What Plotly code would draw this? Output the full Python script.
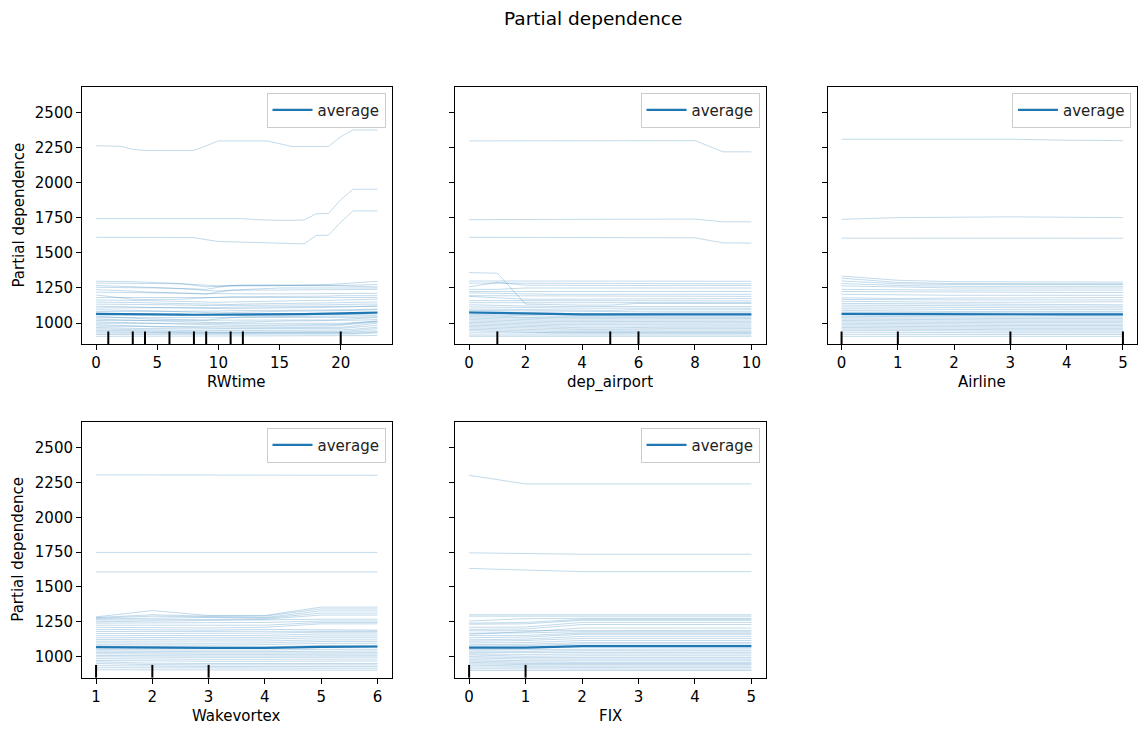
import plotly.graph_objects as go

# ---------------- data ----------------
features = ["RWtime", "dep_airport", "Airline", "Wakevortex", "FIX"]

rwtime_grid = list(range(0, 24))
rwtime_ice = [
    [2265, 2264, 2262, 2240, 2232, 2232, 2232, 2232, 2232, 2265, 2300, 2300, 2300, 2300, 2300, 2280, 2260, 2260, 2260, 2260, 2330, 2378, 2378, 2378],
    [1745, 1745, 1745, 1745, 1745, 1745, 1745, 1745, 1745, 1745, 1745, 1745, 1745, 1738, 1733, 1733, 1733, 1735, 1780, 1782, 1880, 1955, 1955, 1955],
    [1612, 1612, 1612, 1612, 1612, 1612, 1612, 1612, 1610, 1595, 1582, 1580, 1578, 1575, 1574, 1572, 1568, 1565, 1625, 1627, 1720, 1800, 1800, 1800],
    [1298, 1298, 1296, 1295, 1292, 1290, 1285, 1280, 1275, 1268, 1265, 1268, 1270, 1272, 1272, 1272, 1272, 1272, 1274, 1275, 1280, 1288, 1292, 1298],
    [1285, 1285, 1285, 1285, 1285, 1285, 1282, 1280, 1270, 1258, 1262, 1265, 1265, 1265, 1265, 1265, 1265, 1265, 1265, 1266, 1268, 1270, 1272, 1275],
    [1268, 1265, 1262, 1260, 1258, 1255, 1252, 1250, 1245, 1240, 1255, 1268, 1270, 1270, 1270, 1270, 1270, 1270, 1268, 1268, 1265, 1262, 1260, 1258],
    [1255, 1255, 1255, 1252, 1250, 1250, 1248, 1245, 1240, 1232, 1228, 1235, 1240, 1245, 1248, 1250, 1250, 1250, 1250, 1250, 1250, 1250, 1250, 1250],
    [1238, 1236, 1232, 1228, 1222, 1220, 1215, 1212, 1210, 1205, 1222, 1232, 1235, 1235, 1235, 1235, 1235, 1235, 1235, 1235, 1238, 1240, 1240, 1240],
    [1220, 1218, 1218, 1215, 1215, 1215, 1215, 1212, 1210, 1210, 1210, 1208, 1208, 1208, 1208, 1208, 1208, 1208, 1208, 1210, 1210, 1212, 1212, 1212],
    [1200, 1190, 1175, 1170, 1168, 1168, 1168, 1170, 1175, 1180, 1185, 1188, 1188, 1188, 1190, 1190, 1190, 1190, 1190, 1192, 1195, 1195, 1195, 1195],
    [1182, 1182, 1180, 1180, 1180, 1178, 1178, 1178, 1178, 1180, 1180, 1180, 1180, 1180, 1180, 1180, 1180, 1180, 1180, 1180, 1182, 1182, 1182, 1182],
    [1165, 1165, 1162, 1160, 1160, 1158, 1155, 1155, 1152, 1150, 1148, 1150, 1152, 1155, 1158, 1160, 1162, 1162, 1162, 1162, 1165, 1168, 1170, 1170],
    [1150, 1150, 1150, 1148, 1145, 1142, 1140, 1138, 1135, 1132, 1130, 1132, 1135, 1138, 1140, 1140, 1140, 1140, 1142, 1142, 1145, 1148, 1150, 1150],
    [1135, 1135, 1135, 1135, 1135, 1132, 1130, 1128, 1125, 1125, 1125, 1125, 1125, 1128, 1130, 1130, 1130, 1130, 1130, 1130, 1132, 1135, 1135, 1135],
    [1120, 1120, 1118, 1115, 1112, 1110, 1108, 1106, 1104, 1102, 1100, 1102, 1104, 1106, 1108, 1110, 1110, 1110, 1110, 1112, 1115, 1118, 1120, 1120],
    [1108, 1108, 1108, 1108, 1108, 1108, 1105, 1105, 1105, 1108, 1110, 1112, 1115, 1115, 1115, 1115, 1115, 1115, 1115, 1115, 1115, 1118, 1120, 1122],
    [1095, 1095, 1092, 1090, 1088, 1085, 1082, 1080, 1078, 1075, 1072, 1075, 1078, 1080, 1082, 1085, 1085, 1085, 1085, 1085, 1088, 1090, 1092, 1095],
    [1082, 1082, 1082, 1080, 1080, 1080, 1080, 1080, 1080, 1082, 1085, 1088, 1090, 1090, 1090, 1090, 1090, 1090, 1090, 1090, 1092, 1095, 1098, 1100],
    [1070, 1068, 1066, 1064, 1062, 1060, 1058, 1056, 1054, 1052, 1050, 1052, 1054, 1056, 1058, 1060, 1060, 1060, 1062, 1062, 1064, 1066, 1068, 1070],
    [1058, 1058, 1058, 1058, 1056, 1056, 1056, 1056, 1056, 1056, 1058, 1058, 1058, 1058, 1058, 1058, 1058, 1058, 1058, 1058, 1060, 1062, 1064, 1066],
    [1048, 1045, 1040, 1035, 1030, 1028, 1026, 1024, 1022, 1020, 1030, 1040, 1045, 1045, 1045, 1045, 1045, 1045, 1045, 1045, 1048, 1050, 1052, 1055],
    [1038, 1038, 1038, 1036, 1035, 1035, 1035, 1035, 1035, 1035, 1035, 1035, 1035, 1035, 1035, 1035, 1035, 1035, 1035, 1035, 1038, 1040, 1042, 1045],
    [1028, 1025, 1022, 1020, 1018, 1015, 1012, 1010, 1008, 1005, 1002, 1005, 1008, 1010, 1012, 1015, 1015, 1015, 1015, 1015, 1018, 1020, 1022, 1025],
    [1018, 1018, 1018, 1018, 1018, 1018, 1018, 1018, 1018, 1020, 1022, 1022, 1022, 1022, 1022, 1022, 1022, 1022, 1022, 1022, 1025, 1030, 1035, 1040],
    [1008, 1005, 1002, 1000, 998, 996, 994, 992, 990, 988, 985, 985, 985, 985, 985, 985, 985, 985, 985, 985, 990, 998, 1005, 1012],
    [998, 998, 996, 995, 995, 995, 995, 995, 995, 995, 995, 995, 995, 995, 995, 995, 995, 995, 995, 995, 998, 1002, 1008, 1015],
    [988, 985, 980, 978, 975, 975, 975, 975, 975, 978, 980, 980, 980, 980, 980, 980, 980, 980, 980, 980, 985, 992, 1000, 1008],
    [978, 978, 978, 978, 975, 972, 970, 968, 965, 965, 965, 965, 965, 965, 965, 965, 965, 965, 965, 965, 970, 978, 990, 1000],
    [968, 965, 962, 960, 960, 960, 958, 958, 958, 958, 958, 958, 958, 958, 958, 958, 958, 958, 958, 958, 962, 968, 975, 985],
    [958, 958, 955, 952, 950, 948, 946, 945, 944, 945, 946, 946, 946, 946, 946, 946, 946, 946, 946, 946, 950, 955, 962, 970],
    [948, 948, 948, 945, 942, 940, 938, 936, 935, 935, 935, 935, 935, 935, 935, 935, 935, 935, 935, 935, 940, 945, 952, 960],
    [938, 938, 938, 938, 935, 932, 930, 930, 930, 930, 930, 930, 930, 930, 930, 930, 930, 930, 930, 930, 932, 936, 940, 945],
    [928, 928, 928, 928, 928, 926, 925, 925, 925, 925, 925, 925, 925, 925, 925, 925, 925, 925, 925, 925, 926, 928, 932, 936],
    [918, 918, 918, 918, 918, 918, 918, 918, 918, 918, 918, 918, 918, 918, 918, 918, 918, 918, 918, 918, 920, 922, 925, 930],
    [905, 905, 905, 905, 905, 905, 905, 905, 905, 905, 905, 905, 905, 905, 905, 905, 905, 905, 905, 905, 906, 908, 910, 912],
]
rwtime_avg = [1065, 1065, 1064, 1063, 1062, 1061, 1060, 1060, 1059, 1059, 1060, 1062, 1063, 1064, 1064, 1064, 1064, 1064, 1065, 1065, 1067, 1070, 1072, 1075]
rwtime_deciles = [1, 3, 4, 6, 8, 9, 11, 12, 20]

dep_grid = list(range(0, 11))
dep_ice = [
    [2300, 2300, 2300, 2300, 2300, 2300, 2302, 2302, 2302, 2222, 2222],
    [1738, 1738, 1739, 1740, 1740, 1741, 1742, 1742, 1742, 1722, 1722],
    [1612, 1612, 1612, 1612, 1612, 1612, 1611, 1610, 1608, 1572, 1570],
    [1300, 1300, 1298, 1298, 1298, 1298, 1298, 1298, 1298, 1298, 1298],
    [1360, 1355, 1135, 1130, 1128, 1128, 1140, 1140, 1140, 1140, 1140],
    [1258, 1290, 1270, 1268, 1268, 1268, 1268, 1268, 1268, 1268, 1268],
    [1285, 1285, 1282, 1280, 1280, 1280, 1280, 1280, 1280, 1280, 1280],
    [1240, 1240, 1250, 1250, 1250, 1250, 1250, 1250, 1250, 1250, 1250],
    [1225, 1225, 1225, 1225, 1225, 1225, 1225, 1225, 1225, 1225, 1225],
    [1215, 1210, 1205, 1205, 1205, 1205, 1205, 1205, 1205, 1205, 1205],
    [1195, 1195, 1190, 1190, 1190, 1190, 1190, 1190, 1190, 1190, 1190],
    [1190, 1180, 1170, 1170, 1170, 1170, 1175, 1175, 1175, 1175, 1175],
    [1160, 1160, 1160, 1160, 1158, 1158, 1158, 1158, 1158, 1158, 1158],
    [1145, 1145, 1145, 1145, 1145, 1145, 1145, 1145, 1145, 1145, 1145],
    [1130, 1125, 1120, 1118, 1118, 1118, 1118, 1118, 1118, 1118, 1118],
    [1115, 1112, 1110, 1108, 1106, 1106, 1106, 1106, 1106, 1106, 1106],
    [1100, 1098, 1095, 1092, 1090, 1090, 1095, 1095, 1095, 1095, 1095],
    [1090, 1088, 1085, 1082, 1080, 1080, 1080, 1080, 1080, 1080, 1080],
    [1082, 1078, 1070, 1068, 1066, 1066, 1070, 1070, 1070, 1070, 1070],
    [1072, 1068, 1060, 1058, 1056, 1056, 1060, 1060, 1060, 1060, 1060],
    [1062, 1058, 1050, 1048, 1048, 1048, 1050, 1050, 1050, 1050, 1050],
    [1052, 1050, 1040, 1038, 1038, 1038, 1040, 1040, 1040, 1040, 1040],
    [1045, 1040, 1032, 1030, 1030, 1030, 1032, 1032, 1032, 1032, 1032],
    [1035, 1030, 1022, 1020, 1020, 1020, 1022, 1022, 1022, 1022, 1022],
    [1025, 1020, 1012, 1010, 1010, 1010, 1012, 1012, 1012, 1012, 1012],
    [1015, 1010, 1002, 1000, 1000, 1000, 1002, 1002, 1002, 1002, 1002],
    [1005, 1000, 992, 990, 990, 990, 992, 992, 992, 992, 992],
    [995, 990, 982, 980, 978, 978, 980, 980, 980, 980, 980],
    [985, 980, 972, 968, 966, 966, 970, 970, 970, 970, 970],
    [975, 970, 962, 958, 956, 956, 960, 960, 960, 960, 960],
    [965, 962, 955, 950, 948, 948, 950, 950, 950, 950, 950],
    [955, 952, 945, 940, 938, 938, 940, 940, 940, 940, 940],
    [945, 942, 935, 930, 930, 930, 932, 932, 932, 932, 932],
    [930, 930, 928, 925, 925, 925, 925, 925, 925, 925, 925],
    [915, 915, 915, 915, 915, 915, 915, 915, 915, 915, 915],
    [905, 905, 905, 905, 905, 905, 905, 905, 905, 905, 905],
]
dep_avg = [1075, 1072, 1065, 1063, 1062, 1062, 1063, 1063, 1063, 1062, 1062]
dep_deciles = [1, 5, 6]

airline_grid = [0, 1, 2, 3, 4, 5]
airline_ice = [
    [2312, 2312, 2312, 2312, 2305, 2302],
    [1740, 1752, 1755, 1758, 1755, 1752],
    [1606, 1606, 1606, 1606, 1606, 1605],
    [1335, 1305, 1295, 1295, 1292, 1292],
    [1320, 1290, 1282, 1280, 1280, 1280],
    [1300, 1280, 1275, 1275, 1275, 1275],
    [1282, 1268, 1262, 1262, 1262, 1262],
    [1265, 1255, 1250, 1250, 1250, 1250],
    [1240, 1235, 1235, 1235, 1235, 1235],
    [1225, 1222, 1220, 1220, 1218, 1218],
    [1205, 1200, 1198, 1198, 1198, 1198],
    [1180, 1175, 1178, 1180, 1182, 1182],
    [1168, 1165, 1165, 1165, 1165, 1165],
    [1155, 1150, 1148, 1148, 1150, 1152],
    [1140, 1138, 1135, 1132, 1130, 1130],
    [1128, 1125, 1122, 1120, 1120, 1120],
    [1115, 1112, 1110, 1108, 1108, 1108],
    [1102, 1098, 1095, 1095, 1095, 1095],
    [1090, 1085, 1082, 1082, 1082, 1082],
    [1078, 1075, 1072, 1072, 1072, 1072],
    [1068, 1065, 1062, 1062, 1062, 1062],
    [1058, 1055, 1052, 1052, 1052, 1052],
    [1048, 1045, 1042, 1042, 1042, 1042],
    [1038, 1035, 1032, 1032, 1032, 1032],
    [1028, 1025, 1022, 1022, 1022, 1022],
    [1018, 1015, 1012, 1012, 1012, 1012],
    [1008, 1005, 1002, 1002, 1002, 1002],
    [998, 995, 992, 992, 992, 992],
    [988, 985, 982, 982, 982, 982],
    [978, 975, 972, 972, 972, 972],
    [968, 965, 962, 962, 962, 962],
    [958, 955, 952, 952, 952, 952],
    [948, 945, 942, 942, 942, 942],
    [935, 932, 930, 930, 930, 930],
    [920, 918, 918, 918, 918, 918],
    [905, 905, 905, 905, 905, 905],
]
airline_avg = [1065, 1063, 1062, 1062, 1062, 1062]
airline_deciles = [0, 1, 3, 5]

wake_grid = [1, 2, 3, 4, 5, 6]
wake_ice = [
    [2305, 2305, 2305, 2305, 2305, 2302],
    [1748, 1748, 1748, 1748, 1748, 1748],
    [1608, 1608, 1608, 1608, 1608, 1608],
    [1285, 1330, 1295, 1295, 1355, 1355],
    [1280, 1300, 1290, 1290, 1342, 1342],
    [1275, 1290, 1285, 1280, 1328, 1328],
    [1270, 1275, 1280, 1275, 1312, 1312],
    [1262, 1265, 1268, 1268, 1298, 1298],
    [1250, 1255, 1258, 1260, 1268, 1268],
    [1240, 1240, 1240, 1245, 1255, 1255],
    [1225, 1225, 1225, 1225, 1245, 1245],
    [1210, 1205, 1205, 1210, 1235, 1235],
    [1195, 1190, 1190, 1195, 1190, 1190],
    [1180, 1180, 1178, 1180, 1182, 1182],
    [1165, 1165, 1165, 1168, 1175, 1175],
    [1150, 1150, 1150, 1152, 1162, 1162],
    [1135, 1138, 1138, 1138, 1148, 1148],
    [1122, 1125, 1125, 1125, 1135, 1135],
    [1110, 1110, 1112, 1112, 1120, 1120],
    [1098, 1095, 1095, 1098, 1108, 1108],
    [1085, 1082, 1082, 1085, 1095, 1095],
    [1075, 1070, 1068, 1068, 1080, 1080],
    [1062, 1058, 1058, 1058, 1065, 1065],
    [1050, 1046, 1046, 1046, 1052, 1052],
    [1040, 1035, 1035, 1035, 1040, 1040],
    [1030, 1025, 1025, 1025, 1028, 1028],
    [1020, 1015, 1015, 1015, 1018, 1018],
    [1008, 1004, 1004, 1004, 1006, 1006],
    [998, 994, 994, 994, 996, 996],
    [985, 980, 980, 980, 982, 982],
    [972, 968, 966, 966, 968, 968],
    [962, 952, 950, 950, 950, 950],
    [950, 942, 940, 940, 940, 940],
    [935, 930, 928, 928, 928, 928],
    [920, 918, 916, 916, 916, 916],
    [905, 905, 902, 902, 902, 902],
]
wake_avg = [1068, 1064, 1062, 1062, 1070, 1072]
wake_deciles = [1, 2, 3]

fix_grid = [0, 1, 2, 3, 4, 5]
fix_ice = [
    [2302, 2240, 2240, 2240, 2240, 2240],
    [1745, 1738, 1735, 1735, 1735, 1735],
    [1633, 1620, 1610, 1610, 1610, 1610],
    [1300, 1300, 1300, 1300, 1300, 1300],
    [1290, 1290, 1290, 1290, 1290, 1290],
    [1255, 1272, 1275, 1275, 1275, 1275],
    [1240, 1245, 1268, 1268, 1268, 1268],
    [1232, 1235, 1260, 1260, 1260, 1260],
    [1210, 1212, 1245, 1245, 1245, 1245],
    [1195, 1198, 1230, 1230, 1230, 1230],
    [1160, 1178, 1205, 1205, 1205, 1205],
    [1185, 1185, 1188, 1188, 1188, 1188],
    [1168, 1170, 1178, 1178, 1178, 1178],
    [1150, 1152, 1168, 1168, 1168, 1168],
    [1135, 1140, 1160, 1160, 1160, 1160],
    [1120, 1125, 1145, 1145, 1145, 1145],
    [1110, 1115, 1130, 1130, 1130, 1130],
    [1098, 1100, 1115, 1115, 1115, 1115],
    [1085, 1088, 1100, 1100, 1100, 1100],
    [1075, 1078, 1090, 1090, 1090, 1090],
    [1062, 1062, 1070, 1070, 1070, 1070],
    [1050, 1050, 1055, 1055, 1055, 1055],
    [1040, 1038, 1042, 1042, 1042, 1042],
    [1030, 1028, 1030, 1030, 1030, 1030],
    [1020, 1015, 1018, 1018, 1018, 1018],
    [1012, 1002, 1005, 1005, 1005, 1005],
    [1000, 992, 992, 992, 992, 992],
    [990, 982, 982, 982, 982, 982],
    [978, 970, 970, 970, 970, 970],
    [968, 960, 958, 958, 958, 958],
    [958, 950, 950, 950, 950, 950],
    [948, 942, 942, 942, 942, 942],
    [938, 932, 932, 932, 932, 932],
    [925, 922, 922, 922, 922, 922],
    [912, 910, 910, 910, 910, 910],
    [900, 900, 900, 900, 900, 900],
]
fix_avg = [1064, 1064, 1075, 1075, 1075, 1075]
fix_deciles = [0, 1]

x_dticks = [5, 2, 1, 1, 1]
y_ticks = [1000, 1250, 1500, 1750, 2000, 2250, 2500]
y_range = [848, 2687]

# ---------------- figure ----------------
W, H = 1138, 729
FONT = "DejaVu Sans"
BLUE = "#1f77b4"
ICE_COLOR = "rgba(31,119,180,0.3)"

panels = [
    (rwtime_grid, rwtime_ice, rwtime_avg, rwtime_deciles),
    (dep_grid, dep_ice, dep_avg, dep_deciles),
    (airline_grid, airline_ice, airline_avg, airline_deciles),
    (wake_grid, wake_ice, wake_avg, wake_deciles),
    (fix_grid, fix_ice, fix_avg, fix_deciles),
]

# pixel boxes (left, right, top, bottom)
boxes = [
    (82, 391.5, 86.7, 344.3),
    (455, 765.5, 86.7, 344.3),
    (827.5, 1137, 86.7, 344.3),
    (82, 391.5, 421.7, 677.7),
    (455, 765.5, 421.7, 677.7),
]

fig = go.Figure()
layout = dict(
    width=W, height=H,
    margin=dict(l=0, r=0, t=0, b=0),
    paper_bgcolor="white", plot_bgcolor="white",
    font=dict(family=FONT, size=15, color="black"),
    showlegend=True,
)
shapes = []
annotations = []

for i, (grid, ice, avg, dec) in enumerate(panels):
    n = i + 1
    xa = "x" if n == 1 else f"x{n}"
    ya = "y" if n == 1 else f"y{n}"
    lg = "legend" if n == 1 else f"legend{n}"
    for line in ice:
        fig.add_trace(go.Scatter(
            x=grid, y=line, mode="lines", xaxis=xa, yaxis=ya,
            line=dict(color=ICE_COLOR, width=0.9),
            showlegend=False, hoverinfo="skip"))
    fig.add_trace(go.Scatter(
        x=grid, y=avg, mode="lines", xaxis=xa, yaxis=ya,
        line=dict(color=BLUE, width=2.2), name="average",
        legend=lg, showlegend=True))
    for d in dec:
        shapes.append(dict(type="line", xref=xa, yref=f"{ya} domain",
                           x0=d, x1=d, y0=0, y1=0.05,
                           line=dict(color="black", width=2)))

    l, r, t, b = boxes[i]
    span = max(grid) - min(grid)
    xr = [min(grid) - 0.05 * span, max(grid) + 0.05 * span]
    axis_common = dict(showline=True, linecolor="black", linewidth=1, mirror=True,
                       ticks="outside", ticklen=5, tickwidth=1, tickcolor="black",
                       showgrid=False, zeroline=False,
                       tickfont=dict(family=FONT, size=15, color="black"))
    layout["xaxis" if n == 1 else f"xaxis{n}"] = dict(
        domain=[l / W, r / W], anchor=ya, range=xr,
        tick0=0, dtick=x_dticks[i], **axis_common)
    layout["yaxis" if n == 1 else f"yaxis{n}"] = dict(
        domain=[1 - b / H, 1 - t / H], anchor=xa, range=y_range,
        tickmode="array", tickvals=y_ticks, showticklabels=(i % 3 == 0),
        **axis_common)
    layout[lg] = dict(
        x=(r - 6) / W, y=1 - (t + 6) / H, xanchor="right", yanchor="top",
        xref="paper", yref="paper", itemwidth=40,
        bgcolor="white", bordercolor="#cccccc", borderwidth=1,
        font=dict(family=FONT, size=15, color="#222222"))
    annotations.append(dict(
        text=features[i], x=(l + r) / 2 / W, y=1 - (b + 38) / H,
        xref="paper", yref="paper", xanchor="center", yanchor="middle",
        showarrow=False, font=dict(family=FONT, size=15, color="black")))
    if i % 3 == 0:
        annotations.append(dict(
            text="Partial dependence", x=18 / W, y=1 - (t + b) / 2 / H,
            xref="paper", yref="paper", xanchor="center", yanchor="middle",
            textangle=-90, showarrow=False,
            font=dict(family=FONT, size=15, color="black")))

annotations.append(dict(
    text="Partial dependence", x=592.5 / W, y=1 - 18 / H,
    xref="paper", yref="paper", xanchor="center", yanchor="middle",
    showarrow=False, font=dict(family=FONT, size=18.5, color="black")))

layout["shapes"] = shapes
layout["annotations"] = annotations
fig.update_layout(**layout)

fig.write_html("out.html")
